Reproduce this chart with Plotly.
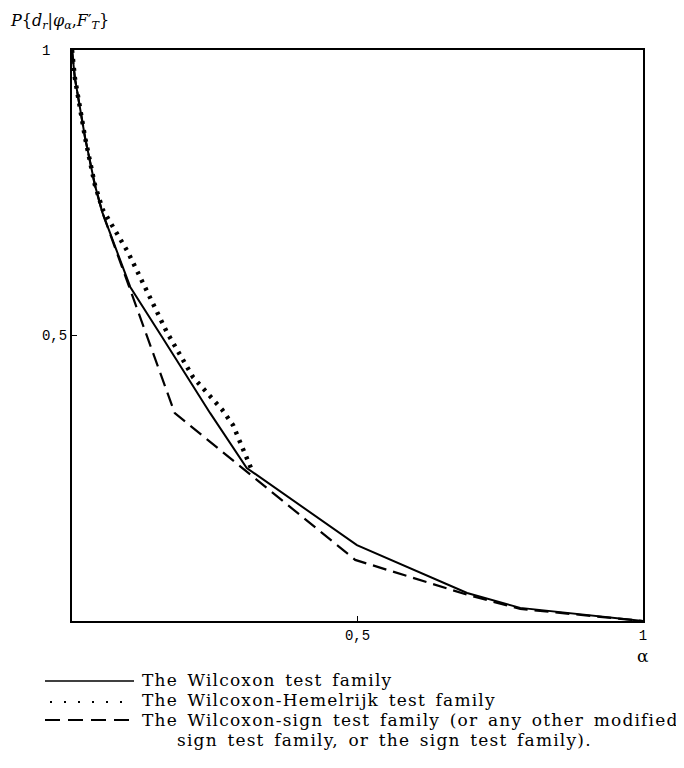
import plotly.graph_objects as go

# ---- data ----
wil_alpha = [0.0, 0.005, 0.023, 0.040, 0.053, 0.102, 0.158, 0.242, 0.306, 0.387, 0.499, 0.692, 0.785, 1.0]
wil_p     = [1.0, 0.951, 0.846, 0.764, 0.716, 0.585, 0.497, 0.364, 0.268, 0.212, 0.133, 0.049, 0.023, 0.0]

hem_alpha = [0.0, 0.005, 0.023, 0.040, 0.054, 0.098, 0.166, 0.212, 0.263, 0.282, 0.315]
hem_p     = [1.0, 0.951, 0.846, 0.764, 0.720, 0.646, 0.506, 0.427, 0.370, 0.343, 0.264]

sign_alpha = [0.0, 0.005, 0.023, 0.040, 0.053, 0.096, 0.180, 0.496, 0.692, 0.785, 1.0]
sign_p     = [1.0, 0.951, 0.846, 0.764, 0.716, 0.596, 0.364, 0.107, 0.046, 0.021, 0.0]

tick_vals = [0.5, 1.0]
x_tick_text = ["0,5", "1"]
y_tick_text = ["0,5", "1\u00a0\u00a0"]

legend_labels = [
    "The Wilcoxon test family",
    "The Wilcoxon-Hemelrijk test family",
    "The Wilcoxon-sign test family (or any other modified",
    "sign test family, or the sign test family).",
]

# ---- layout geometry (page pixels; page body has an 8px offset) ----
OFF = 8
W, H = 684 - OFF, 768 - OFF
L, R, T, B = 72, 643, 50, 621
pw, ph = R - L, B - T

def px(x):
    return (x - L) / pw

def py(y):
    return (B - y) / ph

fig = go.Figure()
fig.add_trace(go.Scatter(x=wil_alpha, y=wil_p, mode="lines",
                         line=dict(color="black", width=2), name=legend_labels[0]))
fig.add_trace(go.Scatter(x=hem_alpha, y=hem_p, mode="lines",
                         line=dict(color="black", width=4.5, dash="3px,6px"), name=legend_labels[1]))
fig.add_trace(go.Scatter(x=sign_alpha, y=sign_p, mode="lines",
                         line=dict(color="black", width=2.2, dash="14px,7px"), name=legend_labels[2]))

tickfont = dict(family="Liberation Mono", size=14, color="black")
fig.update_xaxes(range=[0, 1], showgrid=False, zeroline=False,
                 showline=True, linecolor="black", linewidth=2, mirror=True,
                 tickvals=tick_vals, ticktext=x_tick_text, ticks="inside",
                 ticklen=5, tickcolor="black", tickfont=tickfont)
fig.update_yaxes(range=[0, 1], showgrid=False, zeroline=False,
                 showline=True, linecolor="black", linewidth=2, mirror=True,
                 tickvals=tick_vals, ticktext=y_tick_text, ticks="inside",
                 ticklen=5, tickcolor="black", tickfont=tickfont)

serif = "DejaVu Serif"
ann = []
# y-axis title
ann.append(dict(xref="paper", yref="paper", x=px(8), y=py(21), xanchor="left", yanchor="middle",
                text="<i>P</i>{<i>d</i><sub><i>r</i></sub>|<i>φ</i><sub><i>α</i></sub>,<i>F</i>′<sub><i>T</i></sub>}",
                showarrow=False, font=dict(family=serif, size=16, color="black")))
# x-axis symbol
ann.append(dict(xref="paper", yref="paper", x=px(643), y=py(656), xanchor="center", yanchor="middle",
                text="α", showarrow=False, font=dict(family=serif, size=17, color="black")))

# legend texts
legend_y = [680, 700, 720, 740]
legend_x = [140, 140, 140, 175]
spaced = "letter-spacing:1.2px;word-spacing:3px"
for lab, yy, xx in zip(legend_labels, legend_y, legend_x):
    ann.append(dict(xref="paper", yref="paper", x=px(xx), y=py(yy), xanchor="left", yanchor="middle",
                    text='<span style="%s">%s</span>' % (spaced, lab), showarrow=False,
                    font=dict(family=serif, size=17, color="black")))

shapes = [
    dict(type="line", xref="paper", yref="paper", x0=px(45), x1=px(134), y0=py(681), y1=py(681),
         line=dict(color="black", width=1.5)),
    dict(type="line", xref="paper", yref="paper", x0=px(50), x1=px(134), y0=py(702), y1=py(702),
         line=dict(color="black", width=2, dash="2px,12px")),
    dict(type="line", xref="paper", yref="paper", x0=px(45), x1=px(134), y0=py(720), y1=py(720),
         line=dict(color="black", width=2, dash="15px,8px")),
]

fig.update_layout(width=W, height=H,
                  margin=dict(l=L - OFF, r=W - (R - OFF), t=T - OFF, b=H - (B - OFF)),
                  plot_bgcolor="white", paper_bgcolor="white", showlegend=False,
                  annotations=ann, shapes=shapes)

fig.write_html("out.html")
